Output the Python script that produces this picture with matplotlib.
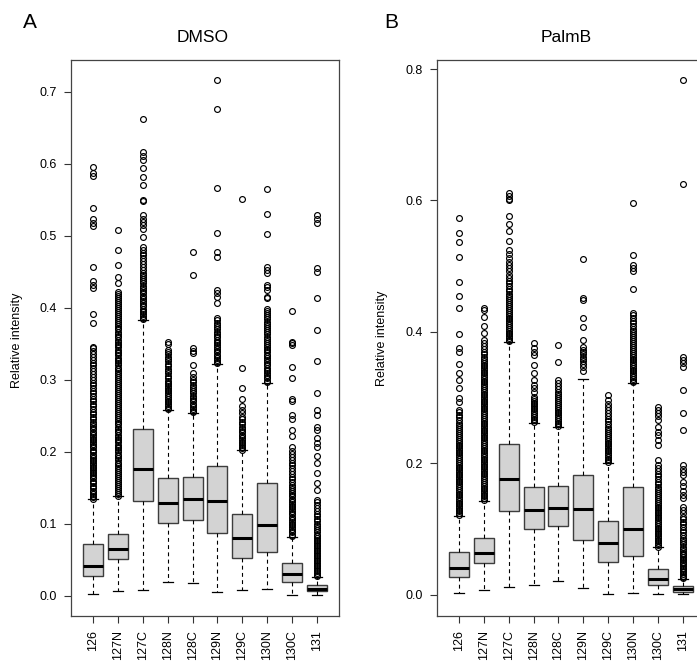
import matplotlib
matplotlib.use("Agg")
import matplotlib.pyplot as plt

plt.rcParams["font.family"] = ["Liberation Sans", "DejaVu Sans"]

labels = ["126", "127N", "127C", "128N", "128C", "129N", "129C", "130N", "130C", "131"]

# ---- panel A: DMSO ----
dmso_whislo = [0.002, 0.006, 0.008, 0.019, 0.018, 0.005, 0.008, 0.010, 0.001, 0.001]
dmso_q1 = [0.028, 0.051, 0.132, 0.101, 0.105, 0.087, 0.053, 0.061, 0.019, 0.006]
dmso_med = [0.041, 0.065, 0.176, 0.129, 0.134, 0.131, 0.080, 0.098, 0.030, 0.010]
dmso_q3 = [0.072, 0.086, 0.232, 0.164, 0.165, 0.180, 0.113, 0.156, 0.046, 0.015]
dmso_whishi = [0.134, 0.138, 0.383, 0.258, 0.254, 0.322, 0.202, 0.296, 0.082, 0.026]

dmso_out_126 = [
    0.135, 0.137, 0.139, 0.142, 0.144, 0.146, 0.149, 0.151, 0.153, 0.156, 0.158, 0.160,
    0.163, 0.165, 0.168, 0.170, 0.172, 0.175, 0.177, 0.179, 0.182, 0.184, 0.187, 0.189,
    0.191, 0.194, 0.196, 0.199, 0.201, 0.203, 0.206, 0.208, 0.211, 0.213, 0.216, 0.218,
    0.221, 0.223, 0.226, 0.228, 0.231, 0.233, 0.236, 0.238, 0.241, 0.245, 0.248, 0.252,
    0.255, 0.259, 0.263, 0.266, 0.270, 0.274, 0.278, 0.281, 0.285, 0.289, 0.293, 0.296,
    0.300, 0.304, 0.308, 0.312, 0.316, 0.320, 0.324, 0.328, 0.332, 0.336, 0.340, 0.344,
    0.346, 0.379, 0.391, 0.428, 0.432, 0.437, 0.457, 0.514, 0.518, 0.524, 0.539, 0.583,
    0.588, 0.596]
dmso_out_127N = [
    0.139, 0.141, 0.144, 0.147, 0.150, 0.152, 0.155, 0.158, 0.161, 0.163, 0.166, 0.169,
    0.172, 0.174, 0.177, 0.180, 0.183, 0.185, 0.188, 0.191, 0.194, 0.196, 0.199, 0.202,
    0.205, 0.207, 0.210, 0.213, 0.216, 0.218, 0.221, 0.224, 0.227, 0.229, 0.232, 0.235,
    0.238, 0.240, 0.243, 0.246, 0.249, 0.251, 0.254, 0.257, 0.260, 0.262, 0.265, 0.268,
    0.271, 0.273, 0.276, 0.279, 0.282, 0.284, 0.287, 0.290, 0.293, 0.295, 0.298, 0.301,
    0.304, 0.306, 0.309, 0.312, 0.315, 0.317, 0.320, 0.323, 0.326, 0.328, 0.331, 0.334,
    0.337, 0.339, 0.342, 0.345, 0.348, 0.350, 0.353, 0.356, 0.359, 0.361, 0.364, 0.367,
    0.370, 0.372, 0.375, 0.378, 0.381, 0.383, 0.386, 0.389, 0.392, 0.394, 0.397, 0.400,
    0.403, 0.405, 0.408, 0.411, 0.414, 0.416, 0.419, 0.422, 0.434, 0.443, 0.459, 0.480,
    0.508]
dmso_out_127C = [
    0.384, 0.386, 0.389, 0.391, 0.394, 0.396, 0.399, 0.402, 0.404, 0.407, 0.409, 0.412,
    0.415, 0.417, 0.420, 0.422, 0.425, 0.428, 0.431, 0.434, 0.437, 0.440, 0.443, 0.446,
    0.449, 0.452, 0.457, 0.461, 0.465, 0.469, 0.473, 0.476, 0.480, 0.485, 0.499, 0.510,
    0.515, 0.519, 0.524, 0.529, 0.548, 0.550, 0.571, 0.582, 0.594, 0.605, 0.611, 0.617,
    0.662]
dmso_out_128N = [
    0.259, 0.261, 0.264, 0.266, 0.269, 0.271, 0.274, 0.276, 0.279, 0.281, 0.284, 0.286,
    0.289, 0.291, 0.294, 0.296, 0.299, 0.302, 0.305, 0.309, 0.312, 0.315, 0.319, 0.322,
    0.326, 0.329, 0.332, 0.336, 0.339, 0.342, 0.350, 0.352]
dmso_out_128C = [
    0.255, 0.257, 0.260, 0.262, 0.265, 0.267, 0.270, 0.272, 0.275, 0.278, 0.281, 0.284,
    0.287, 0.290, 0.293, 0.297, 0.300, 0.304, 0.309, 0.321, 0.337, 0.340, 0.344, 0.445,
    0.477]
dmso_out_129N = [
    0.323, 0.325, 0.328, 0.330, 0.333, 0.335, 0.338, 0.340, 0.343, 0.345, 0.348, 0.351,
    0.353, 0.356, 0.359, 0.361, 0.364, 0.367, 0.370, 0.373, 0.376, 0.379, 0.383, 0.386,
    0.407, 0.415, 0.421, 0.425, 0.471, 0.477, 0.504, 0.566, 0.676, 0.716]
dmso_out_129C = [
    0.203, 0.205, 0.207, 0.210, 0.212, 0.214, 0.217, 0.219, 0.222, 0.224, 0.227, 0.229,
    0.232, 0.235, 0.238, 0.241, 0.245, 0.249, 0.254, 0.258, 0.263, 0.274, 0.288, 0.317,
    0.551]
dmso_out_130N = [
    0.297, 0.299, 0.302, 0.304, 0.307, 0.309, 0.312, 0.314, 0.317, 0.320, 0.322, 0.325,
    0.327, 0.330, 0.333, 0.335, 0.338, 0.341, 0.343, 0.346, 0.349, 0.351, 0.354, 0.357,
    0.360, 0.363, 0.366, 0.369, 0.372, 0.375, 0.378, 0.381, 0.384, 0.387, 0.390, 0.393,
    0.396, 0.399, 0.413, 0.415, 0.425, 0.429, 0.432, 0.448, 0.452, 0.457, 0.502, 0.530,
    0.565]
dmso_out_130C = [
    0.083, 0.085, 0.088, 0.090, 0.093, 0.095, 0.098, 0.100, 0.103, 0.105, 0.108, 0.110,
    0.113, 0.115, 0.118, 0.120, 0.123, 0.125, 0.128, 0.130, 0.133, 0.135, 0.138, 0.140,
    0.143, 0.145, 0.148, 0.151, 0.154, 0.158, 0.162, 0.165, 0.169, 0.173, 0.177, 0.181,
    0.185, 0.189, 0.193, 0.197, 0.201, 0.207, 0.222, 0.230, 0.245, 0.251, 0.270, 0.274,
    0.302, 0.318, 0.348, 0.351, 0.353, 0.395]
dmso_out_131 = [
    0.027, 0.029, 0.031, 0.034, 0.036, 0.038, 0.041, 0.043, 0.045, 0.048, 0.050, 0.052,
    0.055, 0.057, 0.059, 0.062, 0.064, 0.066, 0.069, 0.071, 0.073, 0.076, 0.078, 0.080,
    0.083, 0.085, 0.088, 0.091, 0.094, 0.097, 0.100, 0.104, 0.107, 0.111, 0.114, 0.118,
    0.122, 0.126, 0.130, 0.133, 0.147, 0.157, 0.170, 0.184, 0.194, 0.207, 0.212, 0.219,
    0.230, 0.235, 0.251, 0.258, 0.281, 0.326, 0.369, 0.413, 0.450, 0.455, 0.518, 0.523,
    0.529]

# ---- panel B: PalmB ----
palmb_whislo = [0.003, 0.007, 0.011, 0.015, 0.021, 0.010, 0.0015, 0.0026, 0.001, 0.001]
palmb_q1 = [0.027, 0.048, 0.127, 0.100, 0.104, 0.083, 0.050, 0.059, 0.015, 0.004]
palmb_med = [0.041, 0.063, 0.176, 0.129, 0.1315, 0.130, 0.078, 0.100, 0.024, 0.008]
palmb_q3 = [0.065, 0.087, 0.230, 0.164, 0.165, 0.182, 0.112, 0.164, 0.039, 0.013]
palmb_whishi = [0.120, 0.143, 0.385, 0.262, 0.256, 0.329, 0.201, 0.322, 0.072, 0.024]

palmb_out_126 = [
    0.121, 0.124, 0.127, 0.129, 0.132, 0.135, 0.138, 0.140, 0.143, 0.146, 0.149, 0.151,
    0.154, 0.157, 0.160, 0.162, 0.165, 0.168, 0.171, 0.173, 0.176, 0.179, 0.182, 0.184,
    0.187, 0.190, 0.193, 0.195, 0.198, 0.201, 0.204, 0.206, 0.209, 0.212, 0.215, 0.217,
    0.220, 0.223, 0.226, 0.228, 0.231, 0.234, 0.237, 0.240, 0.243, 0.246, 0.249, 0.252,
    0.255, 0.259, 0.262, 0.266, 0.270, 0.274, 0.278, 0.281, 0.294, 0.299, 0.314, 0.327,
    0.338, 0.351, 0.370, 0.375, 0.397, 0.437, 0.454, 0.476, 0.514, 0.537, 0.550, 0.574]
palmb_out_127N = [
    0.144, 0.147, 0.150, 0.152, 0.155, 0.158, 0.161, 0.163, 0.166, 0.169, 0.172, 0.174,
    0.177, 0.180, 0.183, 0.185, 0.188, 0.191, 0.194, 0.196, 0.199, 0.202, 0.205, 0.207,
    0.210, 0.213, 0.216, 0.218, 0.221, 0.224, 0.227, 0.229, 0.232, 0.235, 0.238, 0.240,
    0.243, 0.246, 0.249, 0.251, 0.254, 0.257, 0.260, 0.262, 0.265, 0.268, 0.271, 0.273,
    0.276, 0.279, 0.282, 0.284, 0.287, 0.290, 0.293, 0.295, 0.298, 0.301, 0.304, 0.306,
    0.309, 0.312, 0.315, 0.317, 0.320, 0.323, 0.326, 0.328, 0.331, 0.334, 0.337, 0.339,
    0.342, 0.345, 0.348, 0.350, 0.353, 0.356, 0.359, 0.362, 0.366, 0.370, 0.374, 0.378,
    0.383, 0.387, 0.398, 0.409, 0.423, 0.433, 0.436]
palmb_out_127C = [
    0.386, 0.388, 0.391, 0.394, 0.397, 0.399, 0.402, 0.405, 0.408, 0.410, 0.413, 0.416,
    0.419, 0.421, 0.424, 0.427, 0.430, 0.433, 0.436, 0.439, 0.442, 0.445, 0.448, 0.451,
    0.454, 0.458, 0.462, 0.466, 0.470, 0.474, 0.478, 0.482, 0.487, 0.492, 0.497, 0.502,
    0.507, 0.513, 0.519, 0.525, 0.539, 0.553, 0.564, 0.576, 0.600, 0.603, 0.607, 0.611]
palmb_out_128N = [
    0.263, 0.266, 0.268, 0.271, 0.274, 0.276, 0.279, 0.282, 0.284, 0.287, 0.290, 0.292,
    0.295, 0.298, 0.301, 0.309, 0.314, 0.319, 0.327, 0.337, 0.350, 0.365, 0.370, 0.376,
    0.383]
palmb_out_128C = [
    0.257, 0.260, 0.262, 0.265, 0.268, 0.270, 0.273, 0.276, 0.278, 0.281, 0.284, 0.287,
    0.290, 0.293, 0.296, 0.299, 0.302, 0.306, 0.309, 0.313, 0.317, 0.322, 0.327, 0.354,
    0.380]
palmb_out_129N = [
    0.340, 0.347, 0.351, 0.355, 0.359, 0.362, 0.366, 0.370, 0.373, 0.377, 0.388, 0.408,
    0.421, 0.449, 0.452, 0.511]
palmb_out_129C = [
    0.202, 0.205, 0.207, 0.210, 0.213, 0.215, 0.218, 0.221, 0.223, 0.226, 0.229, 0.231,
    0.234, 0.237, 0.240, 0.243, 0.246, 0.249, 0.252, 0.256, 0.260, 0.264, 0.268, 0.272,
    0.277, 0.281, 0.286, 0.291, 0.296, 0.304]
palmb_out_130N = [
    0.323, 0.326, 0.329, 0.331, 0.334, 0.337, 0.340, 0.342, 0.345, 0.348, 0.351, 0.354,
    0.357, 0.359, 0.362, 0.365, 0.368, 0.371, 0.374, 0.377, 0.380, 0.383, 0.386, 0.389,
    0.392, 0.395, 0.398, 0.401, 0.405, 0.409, 0.413, 0.417, 0.421, 0.425, 0.428, 0.466,
    0.492, 0.497, 0.502, 0.517, 0.596]
palmb_out_130C = [
    0.073, 0.076, 0.078, 0.081, 0.084, 0.086, 0.089, 0.092, 0.094, 0.097, 0.100, 0.102,
    0.105, 0.108, 0.110, 0.113, 0.116, 0.118, 0.121, 0.124, 0.126, 0.129, 0.132, 0.134,
    0.137, 0.140, 0.143, 0.146, 0.149, 0.152, 0.155, 0.158, 0.161, 0.164, 0.168, 0.172,
    0.176, 0.180, 0.184, 0.189, 0.193, 0.197, 0.205, 0.228, 0.235, 0.243, 0.248, 0.255,
    0.266, 0.272, 0.276, 0.281, 0.286]
palmb_out_131 = [
    0.025, 0.027, 0.029, 0.032, 0.034, 0.036, 0.039, 0.041, 0.043, 0.046, 0.048, 0.050,
    0.053, 0.055, 0.057, 0.060, 0.062, 0.064, 0.067, 0.070, 0.073, 0.077, 0.080, 0.084,
    0.087, 0.091, 0.095, 0.099, 0.103, 0.107, 0.111, 0.115, 0.119, 0.124, 0.129, 0.133,
    0.147, 0.152, 0.158, 0.165, 0.172, 0.182, 0.187, 0.192, 0.197, 0.251, 0.276, 0.312,
    0.347, 0.352, 0.357, 0.362, 0.625, 0.783]

dmso_fliers = [dmso_out_126, dmso_out_127N, dmso_out_127C, dmso_out_128N, dmso_out_128C,
               dmso_out_129N, dmso_out_129C, dmso_out_130N, dmso_out_130C, dmso_out_131]
palmb_fliers = [palmb_out_126, palmb_out_127N, palmb_out_127C, palmb_out_128N, palmb_out_128C,
                palmb_out_129N, palmb_out_129C, palmb_out_130N, palmb_out_130C, palmb_out_131]

W, H = 697, 665


def make_stats(whislo, q1, med, q3, whishi, fliers):
    return [dict(whislo=a, q1=b, med=c, q3=d, whishi=e, fliers=f)
            for a, b, c, d, e, f in zip(whislo, q1, med, q3, whishi, fliers)]


def draw_panel(ax, stats, ylim, yticks):
    pos = list(range(1, len(labels) + 1))
    ax.bxp(stats, positions=pos, widths=0.8, capwidths=0.4, patch_artist=True,
           boxprops=dict(facecolor="#d3d3d3", edgecolor="#3d3d3d", linewidth=1.0),
           medianprops=dict(color="black", linewidth=2.2, solid_capstyle="butt"),
           whiskerprops=dict(color="black", linewidth=0.8, linestyle=(0, (3.5, 3))),
           capprops=dict(color="black", linewidth=0.9),
           flierprops=dict(marker="o", markerfacecolor="none", markeredgecolor="black",
                           markersize=4.2, markeredgewidth=0.85))
    ax.set_xlim(0.1, len(labels) + 0.9)
    ax.set_ylim(*ylim)
    ax.set_yticks(yticks)
    ax.set_yticklabels(["%.1f" % t for t in yticks])
    ax.set_xticks(pos)
    ax.set_xticklabels(labels, rotation=90)
    ax.tick_params(axis="both", length=5, width=0.8, pad=5, labelsize=9, color="#333333")
    for sp in ax.spines.values():
        sp.set_color("#444444")
        sp.set_linewidth(0.9)


fig = plt.figure(figsize=(W / 100, H / 100), dpi=100)
axA = fig.add_axes([71 / W, 49 / H, 268 / W, 556 / H])
axB = fig.add_axes([436.7 / W, 49 / H, 268.3 / W, 556 / H])

draw_panel(axA, make_stats(dmso_whislo, dmso_q1, dmso_med, dmso_q3, dmso_whishi, dmso_fliers),
           (-0.0282, 0.7444), [0.0, 0.1, 0.2, 0.3, 0.4, 0.5, 0.6, 0.7])
draw_panel(axB, make_stats(palmb_whislo, palmb_q1, palmb_med, palmb_q3, palmb_whishi, palmb_fliers),
           (-0.0324, 0.8138), [0.0, 0.2, 0.4, 0.6, 0.8])

fig.text(17 / W, 1 - 340 / H, "Relative intensity", rotation=90, ha="center", va="center", fontsize=9)
fig.text(382 / W, 1 - 338 / H, "Relative intensity", rotation=90, ha="center", va="center", fontsize=9)
fig.text(203 / W, 1 - 38 / H, "DMSO", ha="center", va="center", fontsize=12.5)
fig.text(566 / W, 1 - 38 / H, "PalmB", ha="center", va="center", fontsize=12.5)
fig.text(30 / W, 1 - 22 / H, "A", ha="center", va="center", fontsize=15)
fig.text(391.5 / W, 1 - 22 / H, "B", ha="center", va="center", fontsize=15)

fig.savefig("out.png", dpi=100)
